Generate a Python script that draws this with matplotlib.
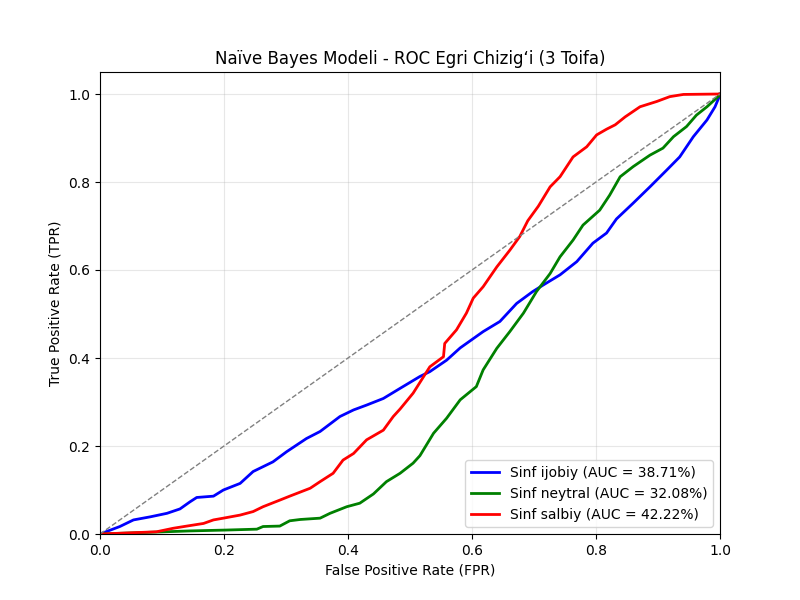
import matplotlib
matplotlib.use("Agg")
import matplotlib.pyplot as plt

# Sinf ijobiy (blue)
fpr_ijobiy = [0.0, 0.032, 0.054, 0.081, 0.108, 0.129, 0.145, 0.156, 0.183, 0.199, 0.226, 0.247,
              0.279, 0.301, 0.333, 0.355, 0.387, 0.409, 0.430, 0.457, 0.484, 0.516, 0.532, 0.559,
              0.581, 0.618, 0.645, 0.672, 0.698, 0.715, 0.742, 0.769, 0.795, 0.817, 0.833, 0.860,
              0.887, 0.914, 0.935, 0.957, 0.979, 0.992, 1.0, 1.0]
tpr_ijobiy = [0.0, 0.017, 0.032, 0.039, 0.047, 0.057, 0.073, 0.083, 0.086, 0.100, 0.115, 0.142,
              0.164, 0.187, 0.217, 0.233, 0.267, 0.282, 0.293, 0.308, 0.331, 0.358, 0.369, 0.395,
              0.423, 0.460, 0.483, 0.524, 0.551, 0.566, 0.589, 0.619, 0.661, 0.684, 0.716, 0.752,
              0.789, 0.827, 0.857, 0.903, 0.941, 0.971, 0.998, 1.0]

# Sinf neytral (green)
fpr_neytral = [0.0, 0.145, 0.204, 0.253, 0.263, 0.290, 0.306, 0.323, 0.355, 0.371, 0.398, 0.419,
               0.441, 0.462, 0.484, 0.505, 0.516, 0.538, 0.559, 0.581, 0.607, 0.618, 0.640, 0.661,
               0.683, 0.704, 0.726, 0.742, 0.763, 0.779, 0.806, 0.822, 0.839, 0.860, 0.887, 0.908,
               0.925, 0.946, 0.962, 0.979, 1.0, 1.0]
tpr_neytral = [0.0, 0.007, 0.009, 0.011, 0.017, 0.018, 0.030, 0.033, 0.036, 0.047, 0.062, 0.070,
               0.091, 0.119, 0.138, 0.161, 0.178, 0.229, 0.263, 0.305, 0.335, 0.373, 0.422, 0.460,
               0.502, 0.551, 0.592, 0.630, 0.668, 0.702, 0.736, 0.770, 0.812, 0.835, 0.861, 0.877,
               0.903, 0.926, 0.952, 0.971, 0.998, 1.0]

# Sinf salbiy (red)
fpr_salbiy = [0.0, 0.091, 0.118, 0.140, 0.167, 0.183, 0.199, 0.226, 0.247, 0.263, 0.290, 0.306,
              0.339, 0.355, 0.376, 0.392, 0.409, 0.430, 0.457, 0.473, 0.484, 0.505, 0.532, 0.554,
              0.556, 0.575, 0.591, 0.602, 0.618, 0.640, 0.661, 0.677, 0.690, 0.707, 0.726, 0.742,
              0.763, 0.785, 0.801, 0.817, 0.831, 0.847, 0.871, 0.898, 0.919, 0.941, 1.0]
tpr_salbiy = [0.0, 0.005, 0.013, 0.018, 0.024, 0.032, 0.036, 0.043, 0.051, 0.062, 0.077, 0.086,
              0.104, 0.119, 0.138, 0.168, 0.183, 0.214, 0.236, 0.267, 0.284, 0.320, 0.380, 0.403,
              0.433, 0.464, 0.502, 0.536, 0.562, 0.607, 0.645, 0.676, 0.712, 0.745, 0.789, 0.812,
              0.857, 0.880, 0.907, 0.920, 0.930, 0.948, 0.971, 0.983, 0.994, 0.999, 1.0]

labels = ["Sinf ijobiy (AUC = 38.71%)", "Sinf neytral (AUC = 32.08%)", "Sinf salbiy (AUC = 42.22%)"]
colors = ["blue", "green", "red"]

fig, ax = plt.subplots(figsize=(8, 6), dpi=100)
for fx, ty, lab, col in zip([fpr_ijobiy, fpr_neytral, fpr_salbiy],
                            [tpr_ijobiy, tpr_neytral, tpr_salbiy], labels, colors):
    ax.plot(fx, ty, color=col, lw=2, label=lab)
ax.plot([0, 1], [0, 1], linestyle="--", color="gray", lw=1)
ax.set_xlim(0.0, 1.0)
ax.set_ylim(0.0, 1.05)
ax.set_xlabel("False Positive Rate (FPR)")
ax.set_ylabel("True Positive Rate (TPR)")
ax.set_title("Naïve Bayes Modeli - ROC Egri Chizig\u2018i (3 Toifa)")
ax.legend(loc="lower right")
ax.grid(alpha=0.3)
fig.savefig("out.png", dpi=100)
